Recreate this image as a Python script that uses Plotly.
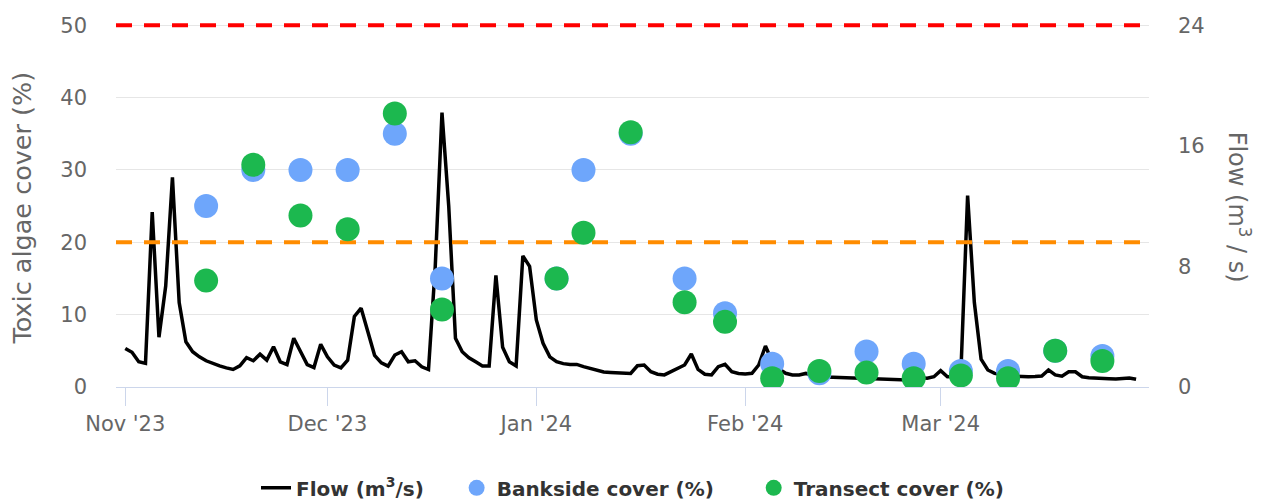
import pandas as pd
import plotly.graph_objects as go

# ---- Data ----
flow_nov = [2.56, 2.3, 1.68, 1.57, 11.6, 3.3, 6.7, 13.9, 5.6, 3.0, 2.34, 2.0, 1.74, 1.56, 1.4,
            1.27, 1.16, 1.4, 1.94, 1.74, 2.18, 1.78, 2.67, 1.67, 1.49, 3.23, 2.34, 1.49, 1.29, 2.83]
flow_dec = [2.0, 1.45, 1.27, 1.78, 4.68, 5.23, 3.67, 2.1, 1.6, 1.38, 2.12, 2.34, 1.67, 1.74, 1.34,
            1.16, 8.0, 18.2, 12.0, 3.23, 2.34, 1.94, 1.67, 1.4, 1.4, 7.4, 2.63, 1.67, 1.4, 8.7, 8.0]
flow_jan = [4.45, 2.9, 2.0, 1.68, 1.55, 1.5, 1.5, 1.35, 1.24, 1.08, 1.0, 0.97, 0.93, 0.91, 0.9,
            1.41, 1.46, 1.01, 0.85, 0.8, 1.0, 1.24, 1.46, 2.19, 1.17, 0.85, 0.8, 1.35, 1.5, 1.01, 0.9]
flow_feb = [0.86, 0.91, 1.46, 2.72, 1.68, 1.2, 0.91, 0.8, 0.8, 0.9, 0.75, 0.68, 0.66, 0.64, 0.62,
            0.6, 0.58, 0.57, 0.56, 0.55, 0.53, 0.52, 0.5, 0.48, 0.46, 1.3, 0.62, 0.58, 0.68]
flow_mar = [1.08, 0.68, 0.7, 0.95, 12.7, 5.6, 1.85, 1.13, 0.9, 0.8, 0.75, 0.72, 0.68, 0.68, 0.7,
            0.73, 1.13, 0.8, 0.72, 1.01, 1.01, 0.68, 0.62, 0.58, 0.56, 0.55, 0.53, 0.55, 0.6, 0.51]
flow = flow_nov + flow_dec + flow_jan + flow_feb + flow_mar
flow_dates = pd.date_range("2023-11-01", periods=len(flow), freq="D")

survey_dates = ["2023-11-13", "2023-11-20", "2023-11-27", "2023-12-04", "2023-12-11", "2023-12-18",
                "2024-01-04", "2024-01-08", "2024-01-15", "2024-01-23", "2024-01-29", "2024-02-05",
                "2024-02-12", "2024-02-19", "2024-02-26", "2024-03-04", "2024-03-11", "2024-03-18",
                "2024-03-25"]
bankside = [25, 30, 30, 30, 35, 15, 15, 30, 35, 15, 10.2, 3.2, 1.9, 4.9, 3.2, 2.2, 2.2, 5.0, 4.3]
transect = [14.7, 30.7, 23.7, 21.8, 37.8, 10.7, 15.0, 21.3, 35.2, 11.7, 9.0, 1.2, 2.2, 2.0, 1.2,
            1.6, 1.2, 5.0, 3.6]

thresholds = [50, 20]
threshold_colors = ["#ff0000", "#ff8c00"]
cover_ticks = [0, 10, 20, 30, 40, 50]
flow_ticks = [0, 8, 16, 24]
x_range = ["2023-10-30 15:00", "2024-03-31 22:00"]
cover_max = 50.3                    # a little headroom so the 50 % line is not clipped
flow_max = 24 * cover_max / 50      # keep 24 m3/s aligned with 50 %

FONT = "DejaVu Sans"
GREY = "#666666"
NB = "\u00a0"

fig = go.Figure()
fig.add_trace(go.Scatter(x=flow_dates, y=flow, mode="lines", name="Flow (m<sup>3</sup>/s)" + NB * 4,
                         line=dict(color="#000000", width=3.5), yaxis="y"))
# threshold reference lines (cover axis), drawn above gridlines, below markers
for t, c in zip(thresholds, threshold_colors):
    fig.add_trace(go.Scatter(x=x_range, y=[t, t], mode="lines", showlegend=False,
                             hoverinfo="skip", line=dict(color=c, width=4, dash="16px,12px"),
                             yaxis="y2"))
fig.add_trace(go.Scatter(x=survey_dates, y=bankside, mode="markers",
                         name="Bankside cover (%)" + NB * 5,
                         marker=dict(color="#6ea6fb", size=24, line=dict(width=0)), yaxis="y2"))
fig.add_trace(go.Scatter(x=survey_dates, y=transect, mode="markers", name="Transect cover (%)",
                         marker=dict(color="#1cb84f", size=24, line=dict(width=0)), yaxis="y2"))

fig.update_layout(
    width=1271, height=504,
    margin=dict(l=108, r=130, t=14.8, b=125, autoexpand=False),
    paper_bgcolor="white", plot_bgcolor="white",
    showlegend=True,
    legend=dict(orientation="h", x=0.5, xanchor="center", y=-0.277, yanchor="middle",
                font=dict(family=FONT, size=20, color="#333333", weight="bold"),
                itemsizing="trace"),
    xaxis=dict(type="date", range=x_range,
               tick0="2023-11-01", dtick="M1", tickformat="%b '%y",
               ticks="outside", ticklen=18, tickcolor="#ccd6eb", tickwidth=1,
               showline=True, linecolor="#ccd6eb", linewidth=1, showgrid=False, zeroline=False,
               tickfont=dict(family=FONT, size=21, color=GREY)),
    yaxis=dict(side="right", range=[0, flow_max], tickvals=flow_ticks, showgrid=False,
               zeroline=False, showline=False, ticks="", ticklabelstandoff=28,
               tickfont=dict(family=FONT, size=21, color=GREY)),
    yaxis2=dict(side="left", overlaying="y", range=[0, cover_max], tickvals=cover_ticks,
                showgrid=True, gridcolor="#e6e6e6", gridwidth=1, zeroline=False, showline=False,
                ticks="", ticklabelstandoff=28,
                tickfont=dict(family=FONT, size=21, color=GREY)),
    annotations=[
        dict(text="Toxic algae cover (%)", xref="paper", yref="paper", x=-0.091, y=0.493,
             xanchor="center", yanchor="middle", textangle=-90, showarrow=False,
             font=dict(family=FONT, size=25.5, color=GREY)),
        dict(text="Flow (m<sup>3</sup> / s)", xref="paper", yref="paper", x=1.088, y=0.493,
             xanchor="center", yanchor="middle", textangle=90, showarrow=False,
             font=dict(family=FONT, size=24, color=GREY)),
    ],
)

fig.write_html("out.html")
